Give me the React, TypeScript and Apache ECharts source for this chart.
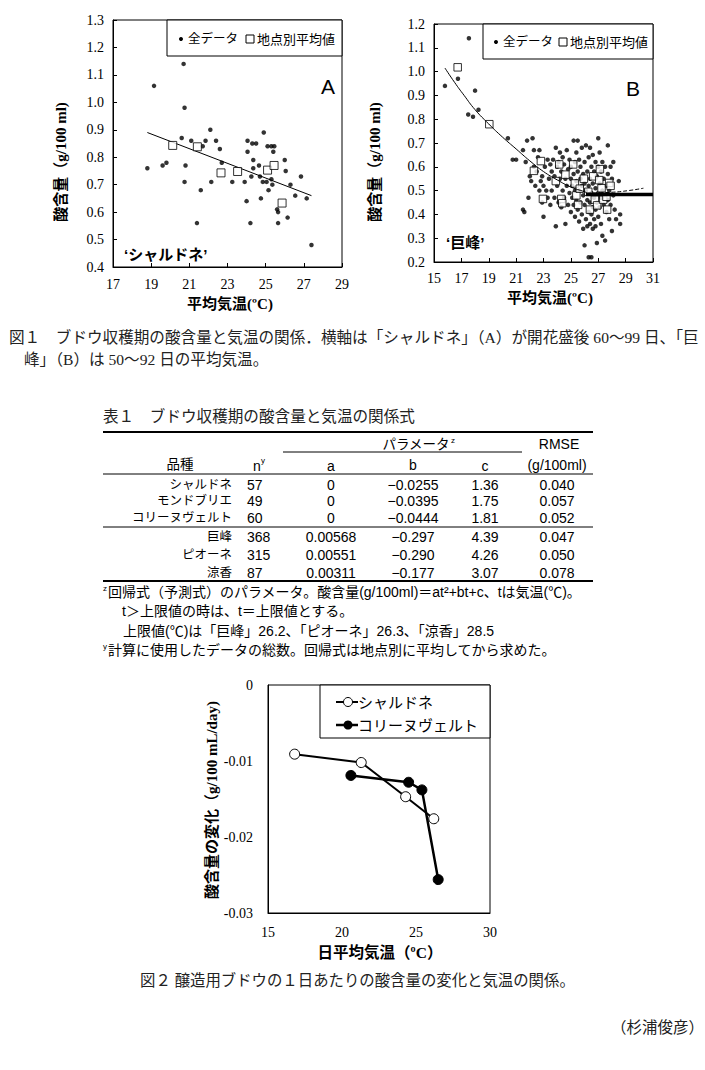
import React, { useEffect, useRef } from "react";
import * as echarts from "echarts";

// ---------- Figure 1A (シャルドネ) ----------
const aAll: number[][] = [
  [18.8, 0.76], [19.15, 1.06], [19.6, 0.77], [19.8, 0.78], [20.7, 1.14], [20.75, 0.98],
  [20.6, 0.87], [20.8, 0.77], [20.75, 0.71], [21.1, 0.86], [21.4, 0.56], [21.6, 0.68],
  [21.7, 0.84], [21.85, 0.86], [22.1, 0.9], [22.15, 0.71], [22.4, 0.86], [22.6, 0.83],
  [22.7, 0.78], [23.25, 0.71], [23.9, 0.71], [24.0, 0.64], [24.05, 0.86], [24.05, 0.82],
  [24.2, 0.56], [24.25, 0.73], [24.35, 0.79], [24.3, 0.85], [24.5, 0.85], [24.35, 0.76],
  [24.65, 0.77], [24.7, 0.73], [24.75, 0.65], [24.9, 0.89], [24.85, 0.71], [25.05, 0.71],
  [25.1, 0.84], [25.3, 0.84], [25.45, 0.84], [25.15, 0.68], [25.3, 0.72], [25.35, 0.7],
  [25.4, 0.82], [25.6, 0.61], [25.65, 0.6], [25.65, 0.56], [26.0, 0.79], [26.05, 0.75],
  [26.15, 0.58], [26.3, 0.7], [26.55, 0.66], [26.85, 0.73], [27.15, 0.65], [27.4, 0.48],
];
const aMean: number[][] = [
  [20.13, 0.843], [21.42, 0.838], [22.66, 0.743], [23.53, 0.748], [25.1, 0.753], [25.44, 0.77], [25.86, 0.633],
];
const aFit: number[][] = [[18.8, 0.89], [27.4, 0.66]];

// ---------- Figure 1B (巨峰) ----------
const bAll: number[][] = [
  [15.8, 0.94], [16.75, 0.97], [17.55, 1.14], [17.5, 0.82], [17.85, 0.81], [18.0, 0.92], [18.25, 0.84],
  [20.4, 0.72], [20.75, 0.63], [21.0, 0.63], [21.5, 0.67],
  [21.5, 0.42], [21.6, 0.41], [21.7, 0.62], [21.8, 0.71], [21.9, 0.47], [22.0, 0.56], [22.1, 0.54],
  [22.2, 0.72], [22.3, 0.67], [22.3, 0.6], [22.4, 0.52], [22.5, 0.58], [22.6, 0.64], [22.7, 0.67],
  [22.7, 0.5], [22.8, 0.54], [22.9, 0.45], [22.9, 0.56], [23.0, 0.39], [23.0, 0.52], [23.1, 0.6],
  [23.2, 0.5], [23.3, 0.47], [23.3, 0.63], [23.4, 0.55], [23.5, 0.61], [23.5, 0.44], [23.6, 0.58],
  [23.6, 0.5], [23.7, 0.63], [23.8, 0.47], [23.8, 0.56], [23.9, 0.68], [23.9, 0.35], [24.0, 0.6],
  [24.0, 0.52], [24.1, 0.45], [24.1, 0.62], [24.2, 0.66], [24.2, 0.55], [24.3, 0.43], [24.3, 0.58],
  [24.4, 0.5], [24.4, 0.64], [24.5, 0.47], [24.5, 0.61], [24.6, 0.55], [24.6, 0.36], [24.7, 0.67],
  [24.7, 0.52], [24.8, 0.44], [24.8, 0.59], [24.9, 0.49], [24.9, 0.63], [25.0, 0.41], [25.0, 0.55],
  [25.0, 0.6], [25.1, 0.47], [25.1, 0.52], [25.2, 0.71], [25.2, 0.57], [25.2, 0.44], [25.3, 0.62],
  [25.3, 0.5], [25.3, 0.39], [25.4, 0.54], [25.4, 0.66], [25.4, 0.46], [25.5, 0.71], [25.5, 0.58],
  [25.5, 0.42], [25.6, 0.5], [25.6, 0.63], [25.6, 0.37], [25.7, 0.55], [25.7, 0.45], [25.7, 0.6],
  [25.8, 0.52], [25.8, 0.68], [25.8, 0.4], [25.9, 0.48], [25.9, 0.57], [25.9, 0.34], [26.0, 0.62],
  [26.0, 0.44], [26.0, 0.53], [26.0, 0.27], [26.1, 0.69], [26.1, 0.5], [26.1, 0.38], [26.2, 0.58],
  [26.2, 0.46], [26.2, 0.35], [26.3, 0.64], [26.3, 0.41], [26.3, 0.52], [26.3, 0.22], [26.4, 0.68],
  [26.4, 0.55], [26.4, 0.45], [26.4, 0.36], [26.5, 0.6], [26.5, 0.49], [26.5, 0.22], [26.5, 0.4],
  [26.6, 0.65], [26.6, 0.53], [26.6, 0.43], [26.6, 0.34], [26.7, 0.58], [26.7, 0.47], [26.7, 0.38],
  [26.8, 0.62], [26.8, 0.51], [26.8, 0.42], [26.8, 0.35], [26.9, 0.56], [26.9, 0.45], [26.9, 0.28],
  [27.0, 0.72], [27.0, 0.6], [27.0, 0.49], [27.0, 0.39], [27.1, 0.66], [27.1, 0.53], [27.1, 0.43],
  [27.2, 0.58], [27.2, 0.47], [27.2, 0.36], [27.3, 0.62], [27.3, 0.5], [27.3, 0.31], [27.4, 0.55],
  [27.4, 0.44], [27.5, 0.6], [27.5, 0.48], [27.5, 0.29], [27.6, 0.52], [27.6, 0.41], [27.7, 0.69],
  [27.7, 0.57], [27.7, 0.46], [27.8, 0.5], [27.8, 0.38], [27.9, 0.6], [27.9, 0.44], [28.0, 0.55],
  [28.0, 0.33], [28.1, 0.48], [28.1, 0.62], [28.2, 0.42], [28.3, 0.38], [28.5, 0.54], [28.6, 0.4], [28.6, 0.36],
];
const bMean: number[][] = [
  [16.73, 1.018], [19.04, 0.779], [22.3, 0.583], [22.81, 0.624], [22.96, 0.465], [23.9, 0.54],
  [24.15, 0.61], [24.3, 0.465], [24.37, 0.447], [24.6, 0.567], [25.17, 0.61], [25.29, 0.53],
  [25.4, 0.48], [25.53, 0.44], [25.65, 0.508], [25.95, 0.55], [26.27, 0.495], [26.39, 0.42],
  [26.63, 0.56], [26.75, 0.462], [26.92, 0.438], [27.07, 0.544], [27.12, 0.59], [27.24, 0.51],
  [27.36, 0.462], [27.6, 0.474], [27.65, 0.42], [27.8, 0.532], [27.9, 0.52],
];
const bFit: number[][] = [
  [15.8, 1.015], [16.5, 0.955], [17.2, 0.9], [18.0, 0.84], [19.0, 0.78], [20.0, 0.725], [21.0, 0.675],
  [22.0, 0.625], [23.0, 0.58], [24.0, 0.545], [25.0, 0.515], [26.0, 0.495], [26.2, 0.49],
];
const bCap: number[][] = [[26.1, 0.484], [31, 0.484]];
const bExt: number[][] = [[26.2, 0.49], [28.0, 0.493], [29.2, 0.5], [30.3, 0.51]];

// ---------- Figure 2 ----------
const shardX = [16.8, 21.3, 24.3, 26.2];
const shardY = [-0.0091, -0.0102, -0.0147, -0.0176];
const collX = [20.6, 24.5, 25.4, 26.5];
const collY = [-0.0119, -0.0128, -0.0138, -0.0256];

// ---------- Table 1 ----------
const varieties = ["シャルドネ", "モンドブリエ", "コリーヌヴェルト", "巨峰", "ピオーネ", "涼香"];
const nVals = ["57", "49", "60", "368", "315", "87"];
const aVals = ["0", "0", "0", "0.00568", "0.00551", "0.00311"];
const bVals = ["−0.0255", "−0.0395", "−0.0444", "−0.297", "−0.290", "−0.177"];
const cVals = ["1.36", "1.75", "1.81", "4.39", "4.26", "3.07"];
const rmseVals = ["0.040", "0.057", "0.052", "0.047", "0.050", "0.078"];

const SERIF = "'Liberation Serif', 'Noto Sans CJK JP', serif";
const SANS = "'Liberation Sans', 'Noto Sans CJK JP', sans-serif";
const MINCHO = "'Liberation Serif', 'Noto Sans CJK JP', serif";

function txt(x: number, y: number, text: string, o: any = {}) {
  return {
    type: "text",
    x,
    y,
    rotation: o.rotation || 0,
    z: 100,
    style: {
      text,
      fill: o.fill || "#000",
      fontSize: o.size || 13,
      fontFamily: o.family || SANS,
      fontWeight: o.weight || "normal",
      textAlign: o.align || "left",
      textVerticalAlign: "middle",
    },
  };
}
function ln(x1: number, y1: number, x2: number, y2: number, w = 1) {
  return { type: "line", z: 100, shape: { x1, y1, x2, y2 }, style: { stroke: "#000", lineWidth: w } };
}

export default function App() {
  const ref = useRef<HTMLDivElement>(null);
  useEffect(() => {
    if (!ref.current) return;
    const chart = echarts.init(ref.current, null, { renderer: "svg" });

    const tickLabel = { color: "#000", fontFamily: SERIF, fontSize: 14 };
    const g: any[] = [];

    // Fig 1A annotations
    g.push({ type: "rect", z: 90, shape: { x: 167, y: 20, width: 175, height: 36 }, style: { fill: "#fff", stroke: "#000", lineWidth: 1 } });
    g.push({ type: "circle", z: 100, shape: { cx: 181, cy: 39, r: 2 }, style: { fill: "#000" } });
    g.push(txt(188, 39, "全データ", { size: 12.5 }));
    g.push({ type: "rect", z: 100, shape: { x: 246, y: 35, width: 8, height: 8 }, style: { fill: "#fff", stroke: "#000", lineWidth: 1 } });
    g.push(txt(257, 39, "地点別平均値", { size: 13 }));
    g.push(txt(321, 86, "A", { size: 21, family: SANS }));
    g.push(txt(124, 254, "‘シャルドネ’", { size: 15, weight: "bold" }));
    g.push(txt(61, 162, "酸含量（g/100 ml)", { size: 15, weight: "bold", family: SERIF, rotation: Math.PI / 2, align: "center" }));
    g.push(txt(230, 304, "平均気温(ºC)", { size: 15, weight: "bold", family: SERIF, align: "center" }));

    // Fig 1B annotations
    g.push({ type: "rect", z: 90, shape: { x: 483, y: 24, width: 170, height: 35 }, style: { fill: "#fff", stroke: "#000", lineWidth: 1 } });
    g.push({ type: "circle", z: 100, shape: { cx: 496, cy: 42, r: 2 }, style: { fill: "#000" } });
    g.push(txt(503, 42, "全データ", { size: 12.5 }));
    g.push({ type: "rect", z: 100, shape: { x: 559, y: 38, width: 8, height: 8 }, style: { fill: "#fff", stroke: "#000", lineWidth: 1 } });
    g.push(txt(570, 42, "地点別平均値", { size: 13 }));
    g.push(txt(626, 88, "B", { size: 21, family: SANS }));
    g.push(txt(446, 242, "‘巨峰’", { size: 15, weight: "bold" }));
    g.push(txt(375, 162, "酸含量（g/100 ml)", { size: 15, weight: "bold", family: SERIF, rotation: Math.PI / 2, align: "center" }));
    g.push(txt(550, 298, "平均気温(ºC)", { size: 15, weight: "bold", family: SERIF, align: "center" }));

    // Caption 1
    g.push(txt(9, 337, "図１　ブドウ収穫期の酸含量と気温の関係．横軸は「シャルドネ」（A）が開花盛後 60～99 日、「巨", { size: 15.6, family: MINCHO, fill: "#222" }));
    g.push(txt(24, 359, "峰」（B）は 50～92 日の平均気温。", { size: 15.6, family: MINCHO, fill: "#222" }));

    // Table 1
    g.push(txt(103, 416, "表１　ブドウ収穫期の酸含量と気温の関係式", { size: 15.6, family: MINCHO, fill: "#222" }));
    g.push(ln(103, 432, 593, 432, 2));
    g.push(txt(416, 444, "パラメータ", { size: 13.5, align: "center" }));
    g.push(txt(451, 440, "z", { size: 8 }));
    g.push(txt(559, 444, "RMSE", { size: 14, align: "center" }));
    g.push(ln(283, 452, 522, 452, 1));
    g.push(txt(180, 464, "品種", { size: 13.5, align: "center" }));
    g.push(txt(253, 466, "n", { size: 14 }));
    g.push(txt(261, 460, "y", { size: 8 }));
    g.push(txt(331, 466, "a", { size: 14, align: "center" }));
    g.push(txt(413, 465, "b", { size: 14, align: "center" }));
    g.push(txt(485, 466, "c", { size: 14, align: "center" }));
    g.push(txt(557, 465, "(g/100ml)", { size: 14, align: "center" }));
    g.push(ln(103, 474, 593, 474, 1));
    const rowY = [485, 501, 518, 537, 555, 573];
    varieties.forEach((v, i) => {
      const y = rowY[i];
      g.push(txt(232, y, v, { size: 12.5, align: "right" }));
      g.push(txt(247, y, nVals[i], { size: 14 }));
      g.push(txt(331, y, aVals[i], { size: 14, align: "center" }));
      g.push(txt(413, y, bVals[i], { size: 14, align: "center" }));
      g.push(txt(485, y, cVals[i], { size: 14, align: "center" }));
      g.push(txt(557, y, rmseVals[i], { size: 14, align: "center" }));
    });
    g.push(ln(103, 527, 593, 527, 1));
    g.push(ln(103, 581, 593, 581, 2));
    g.push(txt(103, 588, "z", { size: 8 }));
    g.push(txt(108, 592, "回帰式（予測式）のパラメータ。酸含量(g/100ml)＝at²+bt+c、tは気温(℃)。", { size: 14 }));
    g.push(txt(122, 611, "t＞上限値の時は、t＝上限値とする。", { size: 14 }));
    g.push(txt(123, 631, "上限値(℃)は「巨峰」26.2、「ピオーネ」26.3、「涼香」28.5", { size: 14 }));
    g.push(txt(103, 646, "y", { size: 8 }));
    g.push(txt(108, 650, "計算に使用したデータの総数。回帰式は地点別に平均してから求めた。", { size: 14 }));

    // Fig 2 annotations
    g.push({ type: "rect", z: 90, shape: { x: 320, y: 685, width: 170, height: 53 }, style: { fill: "#fff", stroke: "#000", lineWidth: 1 } });
    g.push(ln(336, 702, 358, 702, 2));
    g.push({ type: "circle", z: 101, shape: { cx: 348, cy: 702, r: 4.5 }, style: { fill: "#fff", stroke: "#000", lineWidth: 1 } });
    g.push(txt(358, 702, "シャルドネ", { size: 15 }));
    g.push(ln(336, 725, 358, 725, 2.5));
    g.push({ type: "circle", z: 101, shape: { cx: 348, cy: 725, r: 4.5 }, style: { fill: "#000" } });
    g.push(txt(358, 725, "コリーヌヴェルト", { size: 15 }));
    g.push(txt(212, 800, "酸含量の変化（g/100 mL/day)", { size: 15, weight: "bold", family: SERIF, rotation: Math.PI / 2, align: "center" }));
    g.push(txt(380, 952, "日平均気温（ºC）", { size: 15.5, weight: "bold", family: SERIF, align: "center" }));

    // Caption 2 + signature
    g.push(txt(140, 980, "図２ 醸造用ブドウの１日あたりの酸含量の変化と気温の関係。", { size: 15.4, family: MINCHO, fill: "#222" }));
    g.push(txt(611, 1027, "（杉浦俊彦）", { size: 15.5, family: MINCHO, fill: "#222" }));

    const frame = { show: true, borderColor: "#000", borderWidth: 1, backgroundColor: "transparent" };
    const axisLine = { show: true, onZero: false, lineStyle: { color: "#000", width: 1 } };

    chart.setOption({
      animation: false,
      backgroundColor: "#fff",
      grid: [
        { left: 113, top: 20, width: 229, height: 247, ...frame },
        { left: 434, top: 24, width: 219, height: 238, ...frame },
        { left: 268, top: 685, width: 222, height: 228, ...frame },
      ],
      xAxis: [
        { type: "value", gridIndex: 0, min: 17, max: 29, interval: 2, axisLine, splitLine: { show: false },
          axisTick: { show: true, inside: true, length: 4, lineStyle: { color: "#000" } }, axisLabel: { ...tickLabel, margin: 10 } },
        { type: "value", gridIndex: 1, min: 15, max: 31, interval: 2, axisLine, splitLine: { show: false },
          axisTick: { show: true, inside: true, length: 4, lineStyle: { color: "#000" } }, axisLabel: { ...tickLabel, margin: 9 } },
        { type: "value", gridIndex: 2, min: 15, max: 30, interval: 5, axisLine, splitLine: { show: false },
          axisTick: { show: false }, axisLabel: { ...tickLabel, margin: 12 } },
      ],
      yAxis: [
        { type: "value", gridIndex: 0, min: 0.4, max: 1.3, interval: 0.1, axisLine, splitLine: { show: false },
          axisTick: { show: true, inside: true, length: 4, lineStyle: { color: "#000" } },
          axisLabel: { ...tickLabel, margin: 9, formatter: (v: number) => v.toFixed(1) } },
        { type: "value", gridIndex: 1, min: 0.2, max: 1.2, interval: 0.1, axisLine, splitLine: { show: false },
          axisTick: { show: true, inside: true, length: 4, lineStyle: { color: "#000" } },
          axisLabel: { ...tickLabel, margin: 9, formatter: (v: number) => v.toFixed(1) } },
        { type: "value", gridIndex: 2, min: -0.03, max: 0, interval: 0.01, axisLine, splitLine: { show: false },
          axisTick: { show: false },
          axisLabel: { ...tickLabel, margin: 15, formatter: (v: number) => (Math.abs(v) < 1e-9 ? "0" : v.toFixed(2)) } },
      ],
      series: [
        { type: "scatter", xAxisIndex: 0, yAxisIndex: 0, data: aAll, symbolSize: 4.5, itemStyle: { color: "#000" }, z: 2 },
        { type: "line", xAxisIndex: 0, yAxisIndex: 0, data: aFit, showSymbol: false, lineStyle: { color: "#000", width: 1 }, z: 3 },
        { type: "scatter", xAxisIndex: 0, yAxisIndex: 0, data: aMean, symbol: "rect", symbolSize: 8,
          itemStyle: { color: "#fff", borderColor: "#000", borderWidth: 1 }, z: 4 },

        { type: "scatter", xAxisIndex: 1, yAxisIndex: 1, data: bAll, symbolSize: 4.5, itemStyle: { color: "#000" }, z: 2 },
        { type: "scatter", xAxisIndex: 1, yAxisIndex: 1, data: bMean, symbol: "rect", symbolSize: 7.5,
          itemStyle: { color: "#fff", borderColor: "#000", borderWidth: 1 }, z: 3 },
        { type: "line", xAxisIndex: 1, yAxisIndex: 1, data: bFit, smooth: true, showSymbol: false, lineStyle: { color: "#000", width: 1 }, z: 4 },
        { type: "line", xAxisIndex: 1, yAxisIndex: 1, data: bExt, smooth: true, showSymbol: false, lineStyle: { color: "#000", width: 1, type: [4, 2] }, z: 4 },
        { type: "line", xAxisIndex: 1, yAxisIndex: 1, data: bCap, showSymbol: false, lineStyle: { color: "#000", width: 3.5 }, z: 5 },

        { type: "line", xAxisIndex: 2, yAxisIndex: 2, data: shardX.map((x, i) => [x, shardY[i]]), symbol: "circle", symbolSize: 10,
          showAllSymbol: true, lineStyle: { color: "#000", width: 2 }, itemStyle: { color: "#fff", borderColor: "#000", borderWidth: 1 }, z: 3 },
        { type: "line", xAxisIndex: 2, yAxisIndex: 2, data: collX.map((x, i) => [x, collY[i]]), symbol: "circle", symbolSize: 10,
          showAllSymbol: true, lineStyle: { color: "#000", width: 2.5 }, itemStyle: { color: "#000", borderColor: "#000", borderWidth: 1 }, z: 4 },
      ],
      graphic: g,
    });
    return () => chart.dispose();
  }, []);
  return <div ref={ref} style={{ position: "absolute", left: 0, top: 0, width: 705, height: 1070, background: "#fff" }} />;
}
